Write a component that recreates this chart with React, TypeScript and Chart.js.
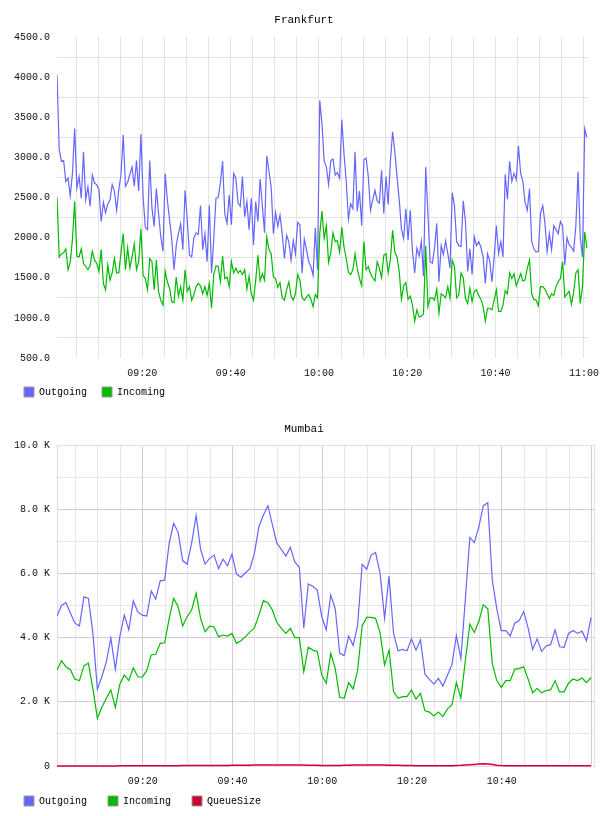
import React, { useEffect, useRef } from 'react';
import { Chart, registerables } from 'chart.js';

Chart.register(...registerables);

const FONT = 'Liberation Mono';

// ---------- Frankfurt (samples every 30 s, minutes after midnight) ----------
const FRA_START_MIN = 540.68;
const FRA_STEP_MIN = 0.5;
const FRA_X_MIN = 540.68;
const FRA_X_MAX = 660.88;
const FRA_X_LABELS = ['09:20', '09:40', '10:00', '10:20', '10:40', '11:00'];
const FRA_Y_LABELS = ['500.0', '1000.0', '1500.0', '2000.0', '2500.0', '3000.0', '3500.0', '4000.0', '4500.0'];

const FRA_OUTGOING = [
  4030, 3100, 2950, 2960, 2700, 2740, 2520, 2800, 3360, 2620,
  2760, 2490, 3070, 2470, 2630, 2390, 2780, 2680, 2660, 2600,
  2200, 2440, 2310, 2420, 2470, 2660, 2580, 2340, 2600, 2790,
  3280, 2640, 2690, 2790, 2880, 2640, 2960, 2580, 3290, 2510,
  2130, 2100, 2960, 2370, 2140, 2610, 2300, 2010, 1830, 2800,
  2460, 2220, 1970, 1600, 1900, 2050, 2170, 1850, 2590, 2220,
  1780, 1760, 2000, 2060, 2040, 2400, 1850, 2050, 1700, 2400,
  1560, 1980, 2490, 2500, 2680, 2950, 2300, 2180, 2530, 2160,
  2800, 2740, 2430, 2390, 2760, 2260, 2450, 2100, 2490, 1910,
  2450, 2200, 2730, 2400, 2060, 3020, 2830, 2630, 2050, 2310,
  2140, 2280, 2050, 1740, 2030, 1950, 1720, 1960, 1800, 2190,
  2160, 1560, 1980, 1850, 1700, 1640, 1530, 2120, 1600, 3710,
  3420, 2960, 2880, 2660, 2960, 2980, 2780, 2810, 2740, 3470,
  3040, 2700, 2230, 2420, 2360, 3070, 2330, 2580, 2150, 2970,
  2990, 2760, 2340, 2470, 2590, 2460, 2430, 2840, 2300, 2760,
  2410, 2950, 3320, 3070, 2760, 2470, 2110, 1990, 2360, 1970,
  2340, 1830, 1560, 1870, 1770, 1950, 1520, 2880, 2300, 1700,
  1680, 1870, 2180, 1450, 1900, 1790, 1960, 1800, 1620, 2560,
  2400, 1950, 1900, 1890, 2460, 2200, 1580, 1860, 1540, 2010,
  1900, 1950, 1880, 1760, 1430, 1800, 1710, 1450, 1760, 2150,
  1800, 1950, 1760, 2790, 2480, 2950, 2700, 2800, 2720, 3140,
  2800, 2700, 2440, 2340, 2610, 1950, 1860, 1820, 1830, 2300,
  2400, 2180, 1830, 2050, 1850, 2150, 2100, 2050, 2200, 2150,
  1660, 2000, 1910, 1880, 1830, 2150, 2820, 2000, 1760, 3360,
  3250,
];

const FRA_INCOMING = [
  2510, 1760, 1800, 1810, 1860, 1600, 1690, 1980, 2450, 1770,
  1760, 1860, 1680, 1640, 1600, 1650, 1830, 1720, 1680, 1580,
  1850, 1430, 1350, 1660, 1470, 1560, 1740, 1560, 1560, 1820,
  2050, 1600, 1870, 1620, 1760, 1920, 1600, 1700, 2110, 1530,
  1490, 1350, 1740, 1700, 1350, 1720, 1330, 1220, 1160, 1580,
  1450, 1370, 1200, 1190, 1510, 1270, 1390, 1220, 1600, 1330,
  1390, 1220, 1290, 1390, 1430, 1400, 1300, 1390, 1280, 1430,
  1120, 1540, 1650, 1640, 1450, 1770, 1490, 1510, 1390, 1700,
  1560, 1620, 1560, 1590, 1540, 1600, 1360, 1520, 1300, 1220,
  1470, 1780, 1460, 1550, 1470, 2010, 1850, 1800, 1510, 1490,
  1380, 1440, 1250, 1220, 1350, 1450, 1270, 1220, 1300, 1540,
  1470, 1250, 1220, 1260, 1290, 1230, 1140, 1290, 1250, 2050,
  2330, 1990, 2150, 1690, 1810, 2060, 1950, 1960, 1820, 2130,
  1880, 1740, 1570, 1540, 1600, 1800, 1610, 1490, 1400, 1950,
  1600, 1640, 1550, 1500, 1460, 1700, 1620, 1500, 1780, 1800,
  1560, 1730, 2090, 1820, 1760, 1580, 1230, 1400, 1440, 1230,
  1270, 1160, 960, 1100, 1010, 1020, 1050, 1900, 1140, 1250,
  1250, 1220, 1360, 1060, 1300, 1280, 1250, 1390, 1250, 1720,
  1640, 1250, 1290, 1560, 1500, 1240, 1180, 1370, 1200, 1330,
  1350, 1280, 1230, 1140, 960, 1120, 1120, 1100, 1220, 1350,
  1080, 1080, 1160, 1340, 1300, 1560, 1490, 1550, 1400, 1470,
  1550, 1460, 1470, 1620, 1720, 1300, 1230, 1220, 1150, 1390,
  1390, 1360, 1300, 1240, 1300, 1280, 1390, 1450, 1490, 1700,
  1260, 1300, 1330, 1170, 1320, 1560, 1600, 1180, 1390, 2070,
  1870,
];

// ---------- Mumbai (samples every minute) ----------
const MUM_START_MIN = 540.9;
const MUM_STEP_MIN = 1;
const MUM_X_MIN = 540.9;
const MUM_X_MAX = 660.57;
const MUM_X_LABELS = ['09:20', '09:40', '10:00', '10:20', '10:40'];
const MUM_Y_TICKS = [0, 2000, 4000, 6000, 8000, 10000];
const MUM_Y_LABELS = ['0', '2.0 K', '4.0 K', '6.0 K', '8.0 K', '10.0 K'];

const MUM_OUTGOING = [
  4670, 5000, 5090, 4760, 4450, 4360, 5270, 5220, 4130, 2390,
  2780, 3250, 3980, 3010, 4030, 4700, 4240, 5150, 4800, 4700,
  4670, 5450, 5200, 5770, 5790, 6940, 7560, 7280, 6400, 6290,
  6940, 7800, 6750, 6290, 6470, 6570, 6150, 6440, 6240, 6600,
  5980, 5880, 6020, 6150, 6630, 7460, 7820, 8110, 7510, 6940,
  6750, 6540, 6810, 6360, 6190, 4300, 5670, 5600, 5480, 4650,
  4240, 5330, 4900, 3510, 3440, 4050, 3750, 4390, 6280, 6130,
  6570, 6650, 6000, 4600, 5920, 4130, 3590, 3630, 3590, 3960,
  3610, 3930, 2860, 2700, 2550, 2730, 2490, 2830, 3150, 4060,
  3350, 5200, 7120, 6960, 7440, 8110, 8200, 5790, 4900, 4220,
  4220, 4050, 4450, 4530, 4810, 4290, 3630, 3960, 3570, 3740,
  3780, 4240, 3720, 3690, 4130, 4220, 4130, 4200, 3900, 4630,
];

const MUM_INCOMING = [
  2990, 3280, 3090, 2990, 2700, 2660, 3120, 3200, 2400, 1490,
  1830, 2110, 2370, 1820, 2550, 2830, 2660, 3060, 2780, 2770,
  2970, 3460, 3480, 3820, 3840, 4600, 5220, 4960, 4360, 4650,
  4860, 5380, 4600, 4180, 4360, 4330, 4030, 4080, 4050, 4130,
  3820, 3900, 4030, 4180, 4300, 4700, 5150, 5090, 4860, 4470,
  4290, 4130, 4290, 4000, 4000, 2940, 3700, 3610, 3570, 2830,
  2580, 3510, 3040, 2140, 2110, 2600, 2400, 2990, 4360, 4630,
  4630, 4600, 4150, 3150, 3610, 2310, 2110, 2160, 2160, 2370,
  2080, 2260, 1720, 1680, 1560, 1680, 1540, 1780, 1900, 2600,
  2110, 3280, 4420, 4160, 4500, 5020, 4900, 3200, 2660, 2450,
  2660, 2660, 3010, 3040, 3090, 2700, 2280, 2420, 2280, 2350,
  2370, 2660, 2310, 2310, 2580, 2710, 2660, 2740, 2600, 2750,
];

const MUM_QUEUE = [
  0, 0, 0, 0, 0, 0, 0, 0, 0, 0,
  0, 0, 0, 0, 5, 5, 5, 5, 5, 5,
  8, 8, 10, 10, 10, 10, 10, 10, 12, 12,
  12, 12, 15, 15, 15, 15, 15, 18, 18, 20,
  20, 22, 25, 25, 28, 30, 30, 32, 35, 35,
  35, 35, 32, 30, 30, 28, 25, 22, 20, 18,
  15, 15, 15, 18, 20, 25, 28, 30, 30, 32,
  35, 35, 32, 30, 25, 22, 20, 18, 15, 12,
  10, 10, 8, 8, 8, 8, 8, 10, 10, 15,
  20, 30, 40, 50, 60, 70, 65, 45, 25, 12,
  8, 8, 8, 8, 6, 6, 6, 5, 5, 5,
  5, 5, 5, 5, 5, 5, 5, 5, 5, 5,
];

const COLOR_OUT = '#6666ff';
const COLOR_IN = '#00bb00';
const COLOR_QUEUE = '#cc0033';

function fmtTime(m: number): string {
  const r = Math.round(m);
  const h = Math.floor(r / 60);
  const mm = r % 60;
  return String(h).padStart(2, '0') + ':' + String(mm).padStart(2, '0');
}

function toPoints(values: number[], start: number, step: number) {
  return values.map((v, i) => ({ x: start + i * step, y: v }));
}

const areaBorder = {
  id: 'areaBorder',
  beforeDatasetsDraw(chart: any, _args: any, opts: any) {
    if (!opts || !opts.color) return;
    const { ctx, chartArea: a } = chart;
    ctx.save();
    ctx.strokeStyle = opts.color;
    ctx.lineWidth = 1;
    ctx.strokeRect(Math.floor(a.left) + 0.5, Math.floor(a.top) + 0.5, Math.round(a.right - a.left), Math.round(a.bottom - a.top));
    ctx.restore();
  },
};

function legendLabels(chart: any) {
  return chart.data.datasets.map((ds: any, i: number) => ({
    text: ds.label,
    fillStyle: ds.borderColor,
    strokeStyle: '#9a9a9a',
    lineWidth: 1,
    hidden: false,
    datasetIndex: i,
    fontColor: '#000',
  }));
}

function lineDs(label: string, data: any[], color: string, order: number) {
  return {
    label,
    data,
    borderColor: color,
    backgroundColor: color,
    borderWidth: 1.2,
    pointRadius: 0,
    pointHoverRadius: 0,
    tension: 0,
    fill: false,
    order,
  };
}

// x-axis box is kept short so the legend sits close; let its labels draw past the box
function shortXAxis(h: number) {
  return (s: any) => {
    s.height = h;
    s._computeLabelArea = () => undefined;
  };
}

function frankfurtConfig(): any {
  const grid = '#e3e3e3';
  return {
    type: 'line',
    data: {
      datasets: [
        lineDs('Outgoing', toPoints(FRA_OUTGOING, FRA_START_MIN, FRA_STEP_MIN), COLOR_OUT, 2),
        lineDs('Incoming', toPoints(FRA_INCOMING, FRA_START_MIN, FRA_STEP_MIN), COLOR_IN, 1),
      ],
    },
    options: {
      animation: false,
      responsive: false,
      devicePixelRatio: 1,
      events: [],
      layout: { padding: { left: 9, right: 9, top: 0, bottom: 0 } },
      plugins: {
        title: {
          display: true,
          text: 'Frankfurt',
          color: '#000',
          font: { family: FONT, size: 11, weight: 'normal' },
          padding: { top: 13, bottom: 10.8 },
        },
        legend: {
          position: 'bottom',
          align: 'start',
          labels: {
            boxWidth: 10,
            boxHeight: 10,
            padding: 15,
            color: '#000',
            font: { family: FONT, size: 10 },
            generateLabels: legendLabels,
          },
        },
        tooltip: { enabled: false },
      },
      scales: {
        x: {
          type: 'linear',
          min: FRA_X_MIN,
          max: FRA_X_MAX,
          ticks: {
            stepSize: 5,
            includeBounds: false,
            autoSkip: false,
            maxRotation: 0,
            minRotation: 0,
            padding: 9,
            color: '#111',
            font: { family: FONT, size: 10 },
            callback: (v: number) => {
              const s = fmtTime(v);
              return FRA_X_LABELS.includes(s) ? s : '';
            },
          },
          grid: { drawTicks: false, color: grid, lineWidth: 1 },
          border: { display: false },
          afterFit: shortXAxis(14),
        },
        y: {
          type: 'linear',
          min: 500,
          max: 4500,
          ticks: {
            stepSize: 250,
            includeBounds: false,
            autoSkip: false,
            padding: 7,
            color: '#111',
            font: { family: FONT, size: 10 },
            callback: (v: number) => {
              const s = Number(v).toFixed(1);
              return FRA_Y_LABELS.includes(s) ? s : '';
            },
          },
          grid: {
            drawTicks: false,
            lineWidth: 1,
            color: (ctx: any) => (FRA_Y_LABELS.includes(Number(ctx.tick.value).toFixed(1)) ? 'rgba(0,0,0,0)' : grid),
          },
          border: { display: false },
          afterFit: (s: any) => { s.width = 48; },
        },
        padR: {
          type: 'linear',
          position: 'right',
          ticks: { display: false },
          grid: { display: false },
          border: { display: false },
          afterFit: (s: any) => { s.width = 5; },
        },
      },
    },
  };
}

function mumbaiConfig(): any {
  const major = '#dcc6dc';
  const minor = '#e8e4e8';
  const ds3 = lineDs('QueueSize', toPoints(MUM_QUEUE, MUM_START_MIN, MUM_STEP_MIN), COLOR_QUEUE, 0) as any;
  ds3.clip = 4;
  ds3.borderWidth = 1.5;
  return {
    type: 'line',
    data: {
      datasets: [
        lineDs('Outgoing', toPoints(MUM_OUTGOING, MUM_START_MIN, MUM_STEP_MIN), COLOR_OUT, 2),
        lineDs('Incoming', toPoints(MUM_INCOMING, MUM_START_MIN, MUM_STEP_MIN), COLOR_IN, 1),
        ds3,
      ],
    },
    plugins: [areaBorder],
    options: {
      animation: false,
      responsive: false,
      devicePixelRatio: 1,
      events: [],
      layout: { padding: { left: 3, right: 3, top: 0, bottom: 0 } },
      plugins: {
        areaBorder: { color: '#ecd8ec' },
        title: {
          display: true,
          text: 'Mumbai',
          color: '#000',
          font: { family: FONT, size: 11, weight: 'normal' },
          padding: { top: 15.4, bottom: 9.4 },
        },
        legend: {
          position: 'bottom',
          align: 'start',
          labels: {
            boxWidth: 10,
            boxHeight: 10,
            padding: 21,
            color: '#000',
            font: { family: FONT, size: 10 },
            generateLabels: legendLabels,
          },
        },
        tooltip: { enabled: false },
      },
      scales: {
        x: {
          type: 'linear',
          min: MUM_X_MIN,
          max: MUM_X_MAX,
          ticks: {
            stepSize: 5,
            includeBounds: false,
            autoSkip: false,
            maxRotation: 0,
            minRotation: 0,
            padding: 9.5,
            color: '#111',
            font: { family: FONT, size: 10 },
            callback: (v: number) => {
              const s = fmtTime(v);
              return MUM_X_LABELS.includes(s) ? s : '';
            },
          },
          grid: {
            drawTicks: false,
            lineWidth: 1,
            color: (ctx: any) => (Math.round(ctx.tick.value) % 20 === 0 ? major : minor),
          },
          border: { display: false },
          afterFit: shortXAxis(9),
        },
        y: {
          type: 'linear',
          min: 0,
          max: 10000,
          ticks: {
            stepSize: 1000,
            autoSkip: false,
            padding: 7,
            color: '#111',
            font: { family: FONT, size: 10 },
            callback: (v: number) => {
              const idx = MUM_Y_TICKS.indexOf(Number(v));
              return idx >= 0 ? MUM_Y_LABELS[idx] : '';
            },
          },
          grid: {
            drawTicks: false,
            lineWidth: 1,
            color: (ctx: any) => {
              const v = ctx.tick.value;
              if (v === 0 || v === 10000) return 'rgba(0,0,0,0)';
              return MUM_Y_TICKS.includes(v) ? major : minor;
            },
          },
          border: { display: false },
          afterFit: (s: any) => { s.width = 54; },
        },
        padR: {
          type: 'linear',
          position: 'right',
          ticks: { display: false },
          grid: { display: false },
          border: { display: false },
          afterFit: (s: any) => { s.width = 11; },
        },
      },
    },
  };
}

export default function App() {
  const fraRef = useRef<HTMLCanvasElement | null>(null);
  const mumRef = useRef<HTMLCanvasElement | null>(null);

  useEffect(() => {
    const charts: Chart[] = [];
    if (fraRef.current) charts.push(new Chart(fraRef.current, frankfurtConfig()));
    if (mumRef.current) charts.push(new Chart(mumRef.current, mumbaiConfig()));
    return () => {
      charts.forEach((c) => c.destroy());
    };
  }, []);

  return (
    <div style={{ position: 'absolute', left: 0, top: 0, width: 608, height: 816, background: '#fff' }}>
      <canvas ref={fraRef} width={608} height={407} style={{ display: 'block', width: 608, height: 407 }} />
      <canvas ref={mumRef} width={608} height={409} style={{ display: 'block', width: 608, height: 409 }} />
    </div>
  );
}
